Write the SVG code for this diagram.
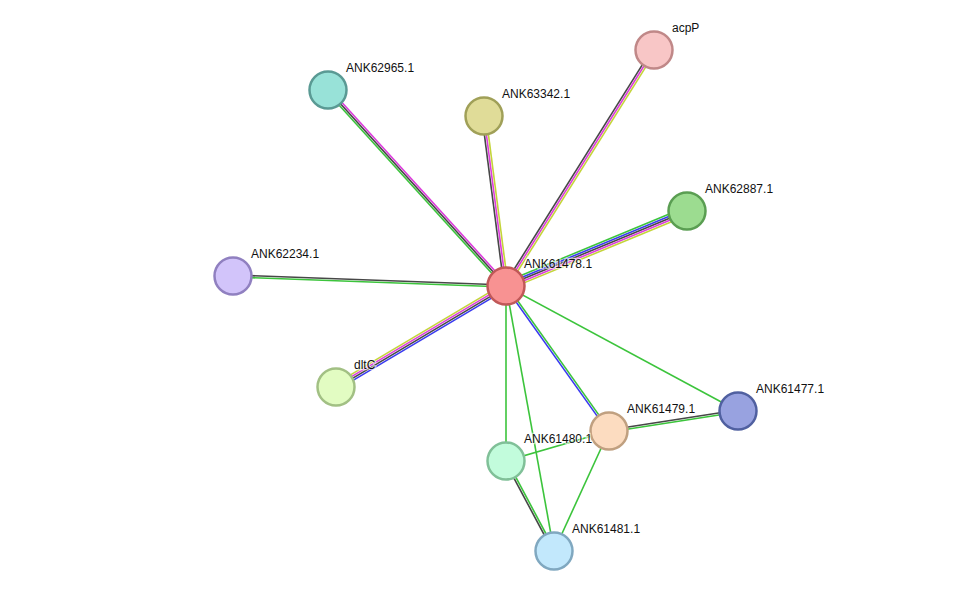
<svg xmlns="http://www.w3.org/2000/svg" width="975" height="597" viewBox="0 0 975 597">
<style>
line{stroke-width:1.6;fill:none}
.g{stroke:#3cc43c}.b{stroke:#3a3af0}.d{stroke:#474747}.m{stroke:#dc3cdc}.y{stroke:#c4d43a}
circle{stroke-width:2.5}
text{font-family:"Liberation Sans",Arial,sans-serif;font-size:12px;fill:#111;stroke:#fff;stroke-width:2.5;stroke-opacity:0.6;paint-order:stroke}
</style>
<rect width="975" height="597" fill="#fff"/>
<g id="edges">
<line class="d" x1="504.3" y1="284.9" x2="652.3" y2="48.9"/>
<line class="m" x1="506" y1="286" x2="654" y2="50"/>
<line class="y" x1="507.7" y1="287.1" x2="655.7" y2="51.1"/>
<line class="g" x1="504.5" y1="287.3" x2="326.5" y2="91.3"/>
<line class="d" x1="506" y1="286" x2="328" y2="90"/>
<line class="m" x1="507.5" y1="284.7" x2="329.5" y2="88.7"/>
<line class="d" x1="504" y1="286.3" x2="482" y2="116.3"/>
<line class="m" x1="506" y1="286" x2="484" y2="116"/>
<line class="y" x1="508" y1="285.7" x2="486" y2="115.7"/>
<line class="g" x1="504.5" y1="282.3" x2="685.5" y2="207.3"/>
<line class="b" x1="505.2" y1="284.2" x2="686.2" y2="209.2"/>
<line class="d" x1="506" y1="286" x2="687" y2="211"/>
<line class="m" x1="506.8" y1="287.8" x2="687.8" y2="212.8"/>
<line class="y" x1="507.5" y1="289.7" x2="688.5" y2="214.7"/>
<line class="d" x1="506" y1="285" x2="233" y2="275"/>
<line class="g" x1="506" y1="287" x2="233" y2="277"/>
<line class="y" x1="504.5" y1="283.4" x2="334.5" y2="384.4"/>
<line class="m" x1="505.5" y1="285.1" x2="335.5" y2="386.1"/>
<line class="d" x1="506.5" y1="286.9" x2="336.5" y2="387.9"/>
<line class="b" x1="507.5" y1="288.6" x2="337.5" y2="389.6"/>
<line class="g" x1="506" y1="286" x2="738" y2="411"/>
<line class="b" x1="505.2" y1="286.6" x2="608.2" y2="431.6"/>
<line class="g" x1="506.8" y1="285.4" x2="609.8" y2="430.4"/>
<line class="g" x1="506" y1="286" x2="506" y2="461"/>
<line class="g" x1="506" y1="286" x2="554" y2="551"/>
<line class="d" x1="608.8" y1="430" x2="737.8" y2="410"/>
<line class="g" x1="609.2" y1="432" x2="738.2" y2="412"/>
<line class="g" x1="506" y1="461" x2="609" y2="431"/>
<line class="g" x1="609" y1="431" x2="554" y2="551"/>
<line class="d" x1="505.1" y1="461.5" x2="553.1" y2="551.5"/>
<line class="g" x1="506.9" y1="460.5" x2="554.9" y2="550.5"/>
</g>
<g id="acpP"><circle cx="654" cy="50" r="18.5" fill="#f8c6c6" stroke="#c08888"/><text x="672" y="32">acpP</text></g>
<g id="ANK62965.1"><circle cx="328" cy="90" r="18.5" fill="#98e2d8" stroke="#5a9a94"/><text x="346" y="72">ANK62965.1</text></g>
<g id="ANK63342.1"><circle cx="484" cy="116" r="18.5" fill="#e0dc98" stroke="#a0a058"/><text x="502" y="98">ANK63342.1</text></g>
<g id="ANK62887.1"><circle cx="687" cy="211" r="18.5" fill="#9cdc90" stroke="#5a9e52"/><text x="705" y="193">ANK62887.1</text></g>
<g id="ANK62234.1"><circle cx="233" cy="276" r="18.5" fill="#d2c4fa" stroke="#9080c0"/><text x="251" y="258">ANK62234.1</text></g>
<g id="dltC"><circle cx="336" cy="387" r="18.5" fill="#e2fcc2" stroke="#a2c084"/><text x="354" y="369">dltC</text></g>
<g id="ANK61477.1"><circle cx="738" cy="411" r="18.5" fill="#98a2e0" stroke="#5060a0"/><text x="756" y="393">ANK61477.1</text></g>
<g id="ANK61479.1"><circle cx="609" cy="431" r="18.5" fill="#fcdcc0" stroke="#c0a080"/><text x="627" y="413">ANK61479.1</text></g>
<g id="ANK61480.1"><circle cx="506" cy="461" r="18.5" fill="#c2fcdc" stroke="#80c098"/><text x="524" y="443">ANK61480.1</text></g>
<g id="ANK61481.1"><circle cx="554" cy="551" r="18.5" fill="#c2e8fc" stroke="#80a8c0"/><text x="572" y="533">ANK61481.1</text></g>
<g id="ANK61478.1"><circle cx="506" cy="286" r="18.5" fill="#f89292" stroke="#c05858"/><text x="524" y="268">ANK61478.1</text></g>
</svg>
